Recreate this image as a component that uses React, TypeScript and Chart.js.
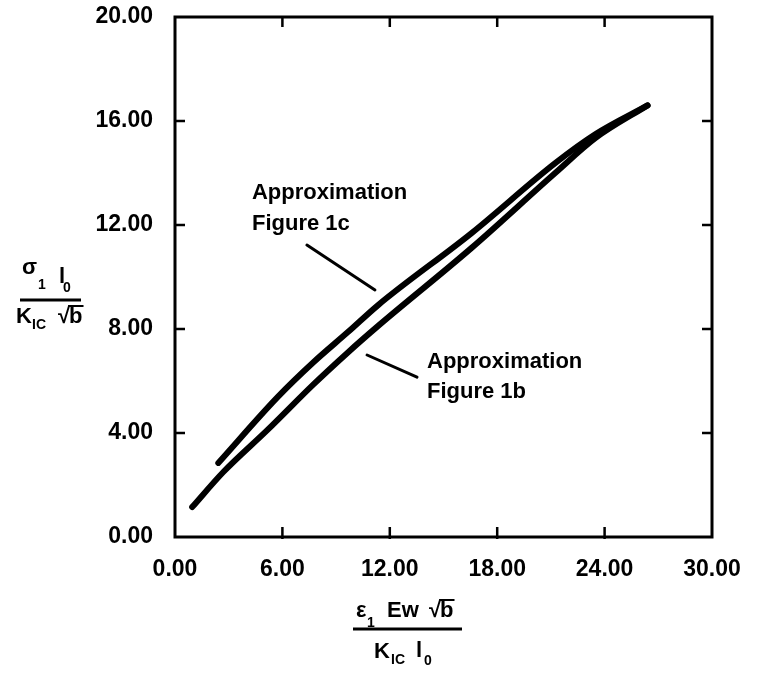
import React, { useEffect, useRef } from "react";
import { Chart, registerables } from "chart.js";

Chart.register(...registerables);

// Axis ranges / ticks
const xRange = [0, 30];
const xStep = 6;
const yRange = [0, 20];
const yStep = 4;

// Curve "Approximation Figure 1c" (upper curve)
const fig1cX = [2.42, 5.73, 7.75, 9.66, 11.35, 16.57, 21.24, 23.5, 26.4];
const fig1cY = [2.85, 5.38, 6.73, 7.88, 8.92, 11.69, 14.38, 15.5, 16.6];

// Curve "Approximation Figure 1b" (lower curve)
const fig1bX = [0.96, 2.7, 5.17, 7.75, 9.66, 11.35, 16.57, 21.24, 23.5, 26.4];
const fig1bY = [1.15, 2.5, 4.12, 5.88, 7.1, 8.12, 11.12, 14.0, 15.35, 16.6];

// Leader lines (data coordinates)
const leader1cX = [7.37, 11.17];
const leader1cY = [11.23, 9.5];
const leader1bX = [10.73, 13.52];
const leader1bY = [7.0, 6.15];

// Annotation labels (data coordinates of left edge / line centre)
const labels1c = ["Approximation", "Figure 1c"];
const labels1cX = 4.3;
const labels1cY = [13.22, 12.03];
const labels1b = ["Approximation", "Figure 1b"];
const labels1bX = 14.08;
const labels1bY = [6.73, 5.58];

const FONT = '"Liberation Sans", Arial, sans-serif';

const zip = (xs: number[], ys: number[]) => xs.map((x, i) => ({ x, y: ys[i] }));

const framePlugin = {
  id: "frame",
  beforeDatasetsDraw(chart: any) {
    const { ctx, chartArea: a, scales } = chart;
    const xs = scales.x;
    const ys = scales.y;
    ctx.save();
    ctx.strokeStyle = "#000";
    ctx.lineWidth = 3;
    ctx.lineCap = "square";
    ctx.strokeRect(a.left, a.top, a.right - a.left, a.bottom - a.top);
    ctx.lineWidth = 2.5;
    ctx.lineCap = "butt";
    const tl = 10;
    xs.ticks.forEach((t: any) => {
      const px = xs.getPixelForValue(t.value);
      if (px <= a.left + 2 || px >= a.right - 2) return;
      ctx.beginPath();
      ctx.moveTo(px, a.bottom + 2);
      ctx.lineTo(px, a.bottom - tl);
      ctx.moveTo(px, a.top);
      ctx.lineTo(px, a.top + tl);
      ctx.stroke();
    });
    ys.ticks.forEach((t: any) => {
      const py = ys.getPixelForValue(t.value);
      if (py <= a.top + 2 || py >= a.bottom - 2) return;
      ctx.beginPath();
      ctx.moveTo(a.left, py);
      ctx.lineTo(a.left + tl, py);
      ctx.moveTo(a.right, py);
      ctx.lineTo(a.right - tl, py);
      ctx.stroke();
    });
    ctx.restore();
  },
  afterDraw(chart: any) {
    const { ctx, scales } = chart;
    const xs = scales.x;
    const ys = scales.y;
    ctx.save();
    ctx.fillStyle = "#000";
    ctx.strokeStyle = "#000";
    ctx.textBaseline = "middle";
    ctx.textAlign = "left";
    ctx.font = `bold 22px ${FONT}`;
    labels1c.forEach((s, i) => {
      ctx.fillText(s, xs.getPixelForValue(labels1cX), ys.getPixelForValue(labels1cY[i]));
    });
    labels1b.forEach((s, i) => {
      ctx.fillText(s, xs.getPixelForValue(labels1bX), ys.getPixelForValue(labels1bY[i]));
    });

    // Axis titles (fractions)
    ctx.textBaseline = "alphabetic";
    const big = `bold 22px ${FONT}`;
    const small = `bold 14px ${FONT}`;
    const sqrtB = (x: number, base: number) => {
      ctx.font = big;
      ctx.fillText("\u221A", x, base);
      const w = ctx.measureText("\u221A").width;
      ctx.fillText("b", x + w - 1, base);
      const wb = ctx.measureText("b").width;
      ctx.lineWidth = 2;
      ctx.beginPath();
      ctx.moveTo(x + w - 2, base - 17);
      ctx.lineTo(x + w + wb, base - 17);
      ctx.stroke();
    };

    // Y title
    ctx.font = big;
    ctx.fillText("\u03C3", 22, 274);
    ctx.font = small;
    ctx.fillText("1", 38, 289);
    ctx.font = big;
    ctx.fillText("l", 59, 283);
    ctx.font = small;
    ctx.fillText("0", 63, 292);
    ctx.lineWidth = 3;
    ctx.beginPath();
    ctx.moveTo(20, 300);
    ctx.lineTo(81, 300);
    ctx.stroke();
    ctx.font = big;
    ctx.fillText("K", 16, 323);
    ctx.font = small;
    ctx.fillText("IC", 32, 329);
    sqrtB(58, 323);

    // X title
    ctx.font = big;
    ctx.fillText("\u03B5", 356, 617);
    ctx.font = small;
    ctx.fillText("1", 367, 627);
    ctx.font = big;
    ctx.fillText("Ew", 387, 617);
    sqrtB(429, 617);
    ctx.lineWidth = 3;
    ctx.beginPath();
    ctx.moveTo(353, 629);
    ctx.lineTo(462, 629);
    ctx.stroke();
    ctx.font = big;
    ctx.fillText("K", 374, 658);
    ctx.font = small;
    ctx.fillText("IC", 391, 664);
    ctx.font = big;
    ctx.fillText("l", 416, 657);
    ctx.font = small;
    ctx.fillText("0", 424, 665);
    ctx.restore();
  },
};

export default function App() {
  const ref = useRef<HTMLCanvasElement | null>(null);
  useEffect(() => {
    document.body.style.margin = "0";
    if (!ref.current) return;
    const curve = (data: any[]) => ({
      data,
      borderColor: "#000",
      borderWidth: 6,
      pointRadius: 0,
      tension: 0.35,
      cubicInterpolationMode: "monotone" as const,
      borderCapStyle: "round" as const,
      borderJoinStyle: "round" as const,
      fill: false,
    });
    const leader = (data: any[]) => ({
      data,
      borderColor: "#000",
      borderWidth: 3,
      pointRadius: 0,
      borderCapStyle: "round" as const,
      fill: false,
    });
    const chart = new Chart(ref.current, {
      type: "line",
      data: {
        datasets: [
          { label: "Approximation Figure 1c", ...curve(zip(fig1cX, fig1cY)) },
          { label: "Approximation Figure 1b", ...curve(zip(fig1bX, fig1bY)) },
          { label: "leader 1c", ...leader(zip(leader1cX, leader1cY)) },
          { label: "leader 1b", ...leader(zip(leader1bX, leader1bY)) },
        ],
      },
      options: {
        responsive: false,
        animation: false,
        layout: { padding: { left: 0, top: 17, right: 45, bottom: 0 } },
        plugins: { legend: { display: false }, tooltip: { enabled: false } },
        scales: {
          x: {
            type: "linear",
            min: xRange[0],
            max: xRange[1],
            grid: { display: false, drawTicks: false },
            border: { display: false },
            ticks: {
              stepSize: xStep,
              color: "#000",
              padding: 19,
              font: { family: FONT, size: 23, weight: "bold" },
              callback: (v: any) => Number(v).toFixed(2),
            },
            afterFit: (s: any) => {
              s.height = 137;
              s.paddingLeft = 0;
              s.paddingRight = 0;
            },
          },
          y: {
            type: "linear",
            min: yRange[0],
            max: yRange[1],
            grid: { display: false, drawTicks: false },
            border: { display: false },
            ticks: {
              stepSize: yStep,
              color: "#000",
              padding: 22,
              font: { family: FONT, size: 23, weight: "bold" },
              callback: (v: any) => Number(v).toFixed(2),
            },
            afterFit: (s: any) => {
              s.width = 175;
              s.paddingTop = 0;
              s.paddingBottom = 0;
            },
          },
        },
      },
      plugins: [framePlugin],
    });
    return () => chart.destroy();
  }, []);
  return (
    <div style={{ width: 757, height: 674, background: "#fff" }}>
      <canvas ref={ref} width={757} height={674} />
    </div>
  );
}
